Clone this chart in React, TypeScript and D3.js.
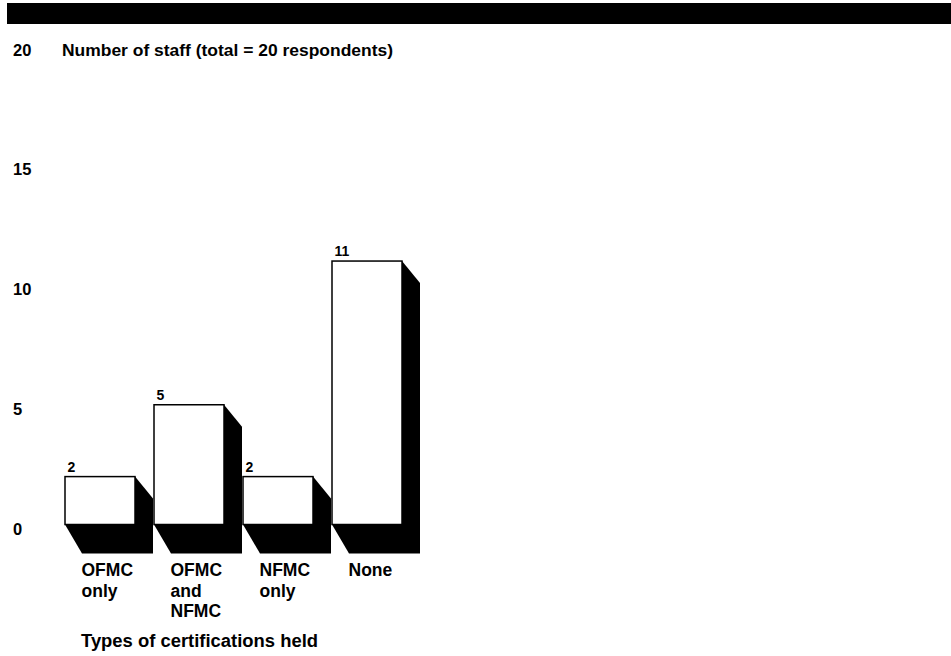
import React from "react";
import * as d3 from "d3";

const categories = ["OFMC only", "OFMC and NFMC", "NFMC only", "None"];
const values = [2, 5, 2, 11];
const yTicks = [0, 5, 10, 15, 20];
const title = "Number of staff (total = 20 respondents)";
const xTitle = "Types of certifications held";

const W = 951;
const H = 656;
const FONT = "'Liberation Sans', Arial, Helvetica, sans-serif";

export default function App() {
  const x = d3
    .scaleBand<string>()
    .domain(categories)
    .range([65, 402])
    .paddingInner(19 / 89)
    .paddingOuter(0);
  const y = d3.scaleLinear().domain([0, 20]).range([524.5, 45.5]);
  const bw = x.bandwidth();
  const sdx = 18;
  const sdyTop = 22;
  const sdyBot = 29;
  const yb = y(0);

  return (
    <svg
      width={W}
      height={H}
      style={{ position: "absolute", left: 0, top: 0, background: "#fff" }}
      fontFamily={FONT}
      fontWeight="bold"
    >
      <rect x={0} y={0} width={W} height={H} fill="#fff" />
      <rect x={7} y={3} width={W - 7} height={21} fill="#000" />

      {/* y tick labels */}
      {yTicks.map((t) => (
        <text key={t} x={13} y={y(t) + 10} fontSize={16.5} fill="#000">
          {t}
        </text>
      ))}

      <text x={62} y={y(20) + 10} fontSize={17} fill="#000" textLength={331} lengthAdjust="spacingAndGlyphs">
        {title}
      </text>

      {/* bars */}
      {categories.map((c, i) => {
        const x0 = x(c) as number;
        const x1 = x0 + bw;
        const yt = y(values[i]);
        const shadow = [
          [x1, yt],
          [x1 + sdx, yt + sdyTop],
          [x1 + sdx, yb + sdyBot],
          [x0 + sdx - 1, yb + sdyBot],
          [x0, yb],
        ]
          .map((p) => p.join(","))
          .join(" ");
        return (
          <g key={c}>
            <polygon points={shadow} fill="#000" />
            <rect x={x0} y={yt} width={bw} height={yb - yt} fill="#fff" stroke="#000" strokeWidth={1.5} />
            <text x={x0 + 2.5} y={yt - 5} fontSize={14} fill="#000">
              {values[i]}
            </text>
          </g>
        );
      })}

      {/* category labels */}
      {categories.map((c) => {
        const x0 = x(c) as number;
        return (
          <text key={"l" + c} x={x0 + 16.5} y={576} fontSize={17.5} fill="#000">
            {c.split(" ").map((w, j) => (
              <tspan key={j} x={x0 + 16.5} y={576 + j * 20.5}>
                {w}
              </tspan>
            ))}
          </text>
        );
      })}

      <text x={81} y={647} fontSize={18} fill="#000" textLength={237} lengthAdjust="spacingAndGlyphs">
        {xTitle}
      </text>
    </svg>
  );
}
